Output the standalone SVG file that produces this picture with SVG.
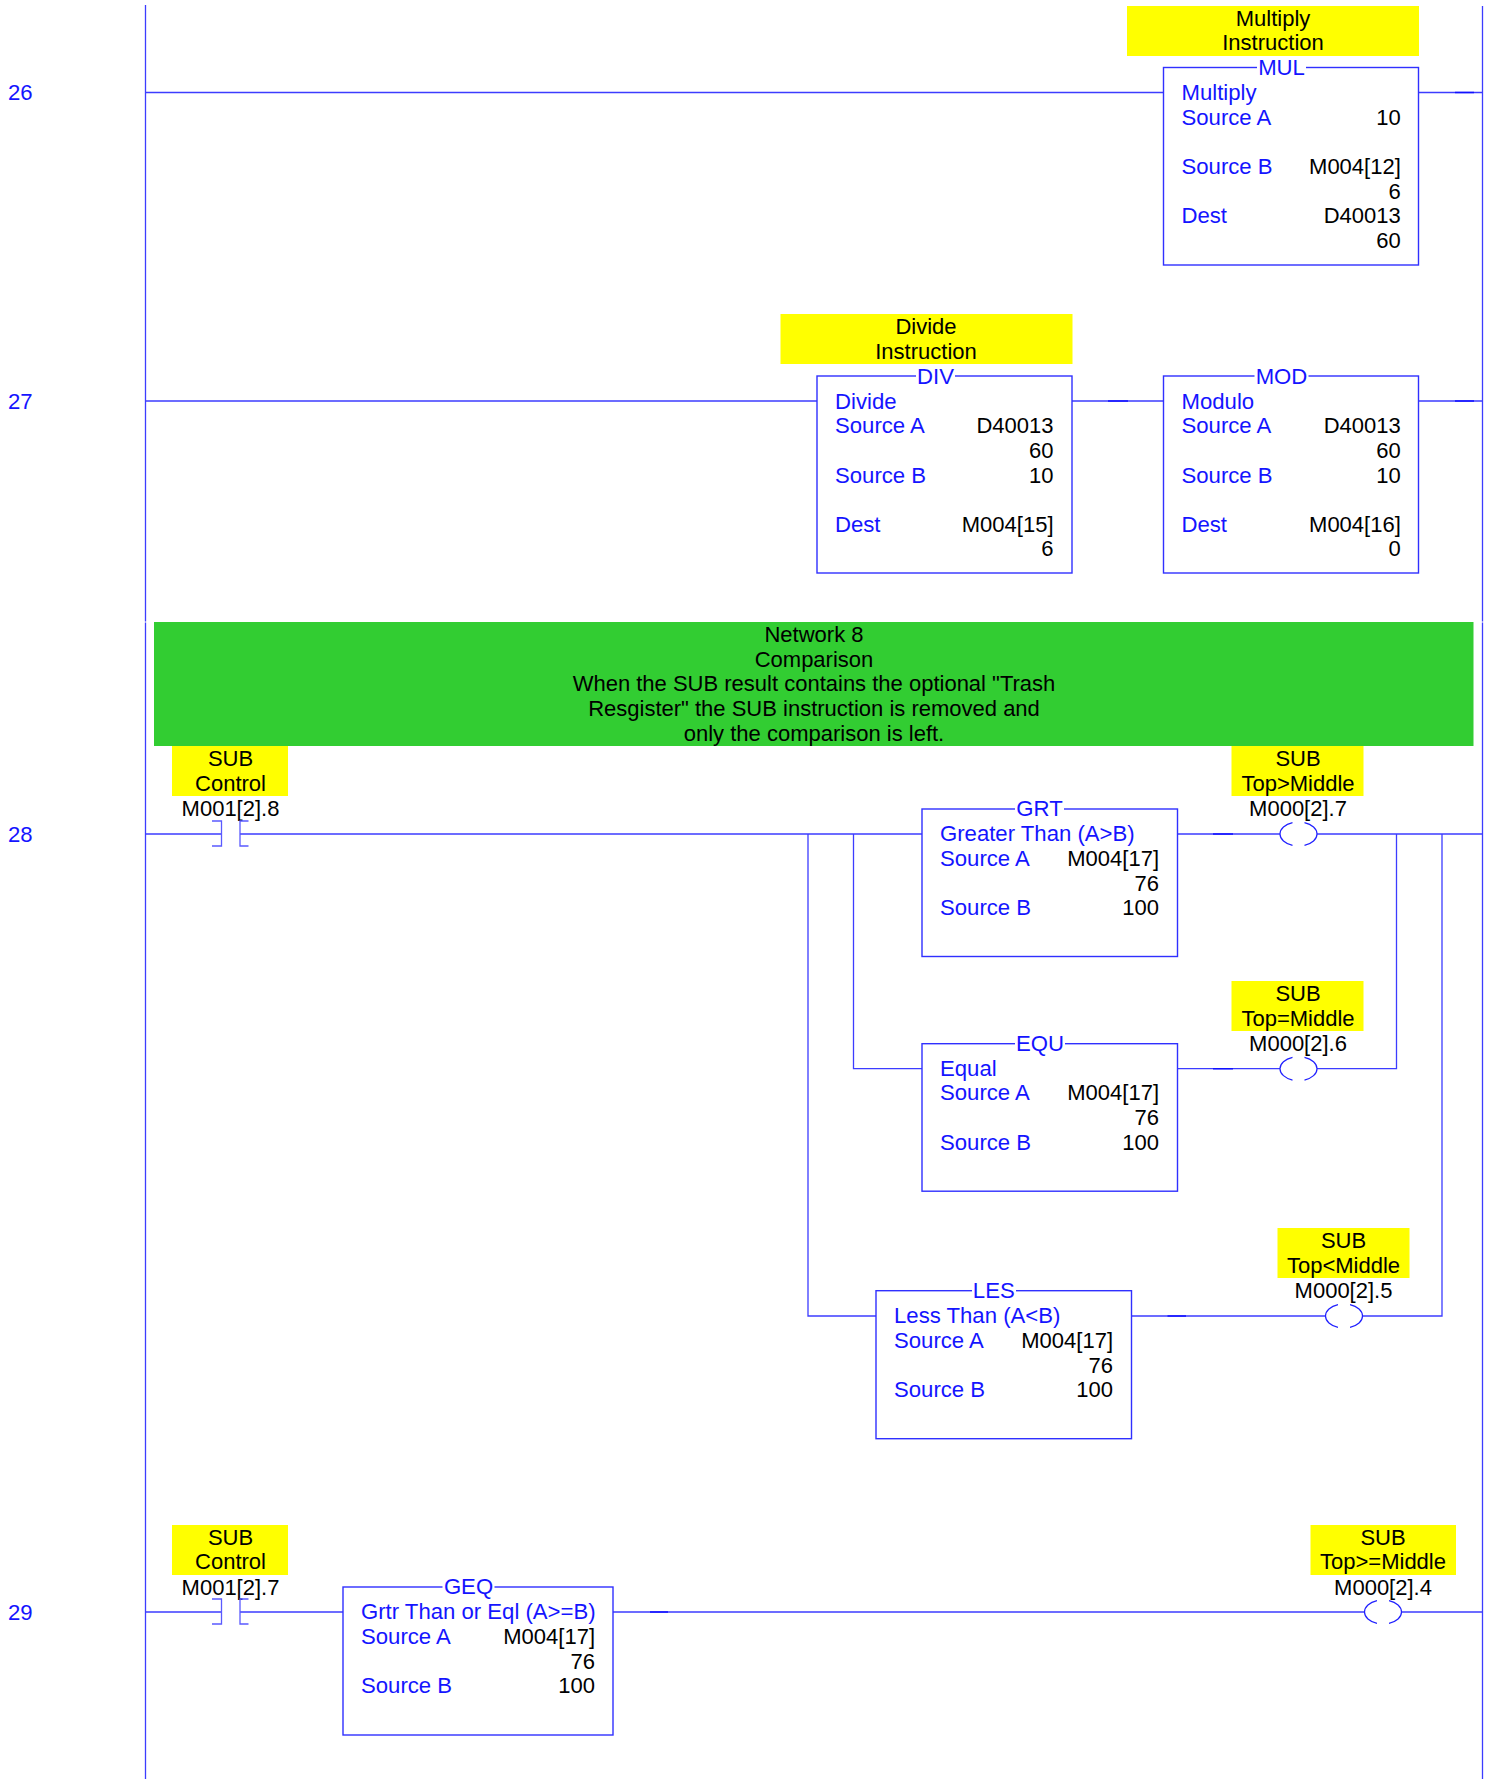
<svg xmlns="http://www.w3.org/2000/svg" width="1486" height="1779" viewBox="0 0 1486 1779">
<style>
text{font-family:"Liberation Sans",Arial,sans-serif;font-size:22px;fill:#000}
text.b{fill:#1414ff;font-size:22.15px}
.m{text-anchor:middle}
.r{text-anchor:end}
.w{fill:none;stroke:#3c3cff;stroke-width:1.3}
.d{fill:none;stroke:#1010ff;stroke-width:1.6}
.box{fill:#fff;stroke:#3030ff;stroke-width:1.4}
.y{fill:#ffff00}
.t{fill:#fff}
.br{fill:none;stroke:#5a5aff;stroke-width:1.3}
.c{fill:none;stroke:#2020ff;stroke-width:1.2}
</style>
<rect width="1486" height="1779" fill="#fff"/>
<g id="connectors">
<path class="w" d="M145.500 5V621.500M145.500 622.500V1779M1482.500 6V621.500M1482.500 622.500V1779"/>
<path class="w" d="M145.500 92.500H1163.500M1418.500 92.500H1482.500"/>
<path class="w" d="M145.500 401H817M1072 401H1163.500M1418.500 401H1482.500"/>
<path class="w" d="M145.500 834H221.500M240 834H922M1177.500 834H1280M1317 834H1482.500M808 834V1316H876M853.500 834V1068.700H922M1177.500 1068.700H1280M1317 1068.700H1396.500V834M1131.500 1316H1325.500M1362.500 1316H1442V834"/>
<path class="w" d="M145.500 1612H221.500M240 1612H343M613 1612H1364M1401 1612H1482.500"/>
<path class="d" d="M1455 92.500H1474M1108 401H1128M1455 401H1474M1213 834H1233M1213 1068.700H1233M1167.500 1316H1186M650 1612H668"/>
</g>
<g id="rung-numbers">
<text class="b" x="8" y="100">26</text>
<text class="b" x="8" y="408.500">27</text>
<text class="b" x="8" y="841.500">28</text>
<text class="b" x="8" y="1619.500">29</text>
</g>
<g id="network-8">
<rect x="154" y="622" width="1319.500" height="124" fill="#32cd32"/>
<text class="m" x="814" y="642">Network 8</text>
<text class="m" x="814" y="667">Comparison</text>
<text class="m" x="814" y="691">When the SUB result contains the optional "Trash</text>
<text class="m" x="814" y="716">Resgister" the SUB instruction is removed and</text>
<text class="m" x="814" y="741">only the comparison is left.</text>
</g>
<g id="mul">
<rect class="y" x="1127" y="6" width="292" height="50"/>
<text class="m" x="1273" y="26">Multiply</text><text class="m" x="1273" y="49.800">Instruction</text>
<rect class="box" x="1163.500" y="67.500" width="255" height="197.500"/>
<rect class="t" x="1257" y="60" width="49" height="14"/>
<text class="b m" x="1281.500" y="75.300">MUL</text>
<text class="b" x="1181.500" y="100">Multiply</text>
<text class="b" x="1181.500" y="125">Source A</text><text class="r" x="1400.800" y="125">10</text>
<text class="b" x="1181.500" y="174">Source B</text><text class="r" x="1400.800" y="174">M004[12]</text>
<text class="r" x="1400.800" y="199">6</text>
<text class="b" x="1181.500" y="222.800">Dest</text><text class="r" x="1400.800" y="222.800">D40013</text>
<text class="r" x="1400.800" y="248">60</text>
</g>
<g id="div">
<rect class="y" x="780.500" y="314" width="292" height="50"/>
<text class="m" x="926" y="334">Divide</text><text class="m" x="926" y="359">Instruction</text>
<rect class="box" x="817" y="376" width="255" height="197"/>
<rect class="t" x="916" y="368" width="39" height="14"/>
<text class="b m" x="935.500" y="384">DIV</text>
<text class="b" x="835" y="408.500">Divide</text>
<text class="b" x="835" y="432.800">Source A</text><text class="r" x="1053.500" y="432.800">D40013</text>
<text class="r" x="1053.500" y="458">60</text>
<text class="b" x="835" y="483">Source B</text><text class="r" x="1053.500" y="483">10</text>
<text class="b" x="835" y="532">Dest</text><text class="r" x="1053.500" y="532">M004[15]</text>
<text class="r" x="1053.500" y="556">6</text>
</g>
<g id="mod">
<rect class="box" x="1163.500" y="376" width="255" height="197"/>
<rect class="t" x="1254.500" y="368" width="54" height="14"/>
<text class="b m" x="1281.500" y="384">MOD</text>
<text class="b" x="1181.500" y="408.500">Modulo</text>
<text class="b" x="1181.500" y="432.800">Source A</text><text class="r" x="1400.800" y="432.800">D40013</text>
<text class="r" x="1400.800" y="458">60</text>
<text class="b" x="1181.500" y="483">Source B</text><text class="r" x="1400.800" y="483">10</text>
<text class="b" x="1181.500" y="532">Dest</text><text class="r" x="1400.800" y="532">M004[16]</text>
<text class="r" x="1400.800" y="556">0</text>
</g>
<g id="contact-28">
<rect class="y" x="172" y="746" width="116" height="50"/>
<text class="m" x="230.500" y="765.700">SUB</text><text class="m" x="230.500" y="791">Control</text>
<text class="m" x="230.500" y="816">M001[2].8</text>
<path class="br" d="M212 821H221.500V846H212M248.500 821H240V846H248.500"/>
</g>
<g id="grt">
<rect class="box" x="922" y="809" width="255.500" height="147.500"/>
<rect class="t" x="1015" y="801" width="49" height="14"/>
<text class="b m" x="1039.500" y="816.300">GRT</text>
<text class="b" x="940" y="840.600">Greater Than (A&gt;B)</text>
<text class="b" x="940" y="865.500">Source A</text><text class="r" x="1159" y="865.500">M004[17]</text>
<text class="r" x="1159" y="890.500">76</text>
<text class="b" x="940" y="915">Source B</text><text class="r" x="1159" y="915">100</text>
</g>
<g id="coil-27">
<rect class="y" x="1231.500" y="746" width="132" height="50"/>
<text class="m" x="1298" y="765.700">SUB</text><text class="m" x="1298" y="791">Top&gt;Middle</text>
<text class="m" x="1298" y="816">M000[2].7</text>
<path class="c" d="M1292.500 822.650A18.500 12 0 0 0 1292.500 845.350M1304.500 822.650A18.500 12 0 0 1 1304.500 845.350"/>
</g>
<g id="equ">
<rect class="box" x="922" y="1043.700" width="255.500" height="147.500"/>
<rect class="t" x="1015" y="1036" width="50" height="14"/>
<text class="b m" x="1040" y="1050.500">EQU</text>
<text class="b" x="940" y="1076">Equal</text>
<text class="b" x="940" y="1100">Source A</text><text class="r" x="1159" y="1100">M004[17]</text>
<text class="r" x="1159" y="1125">76</text>
<text class="b" x="940" y="1150">Source B</text><text class="r" x="1159" y="1150">100</text>
</g>
<g id="coil-26">
<rect class="y" x="1231.500" y="981" width="132" height="50"/>
<text class="m" x="1298" y="1000.500">SUB</text><text class="m" x="1298" y="1026">Top=Middle</text>
<text class="m" x="1298" y="1050.800">M000[2].6</text>
<path class="c" d="M1292.500 1057.350A18.500 12 0 0 0 1292.500 1080.050M1304.500 1057.350A18.500 12 0 0 1 1304.500 1080.050"/>
</g>
<g id="les">
<rect class="box" x="876" y="1290.700" width="255.500" height="148"/>
<rect class="t" x="972" y="1283" width="44" height="14"/>
<text class="b m" x="993.800" y="1298">LES</text>
<text class="b" x="894" y="1322.800">Less Than (A&lt;B)</text>
<text class="b" x="894" y="1347.500">Source A</text><text class="r" x="1113" y="1347.500">M004[17]</text>
<text class="r" x="1113" y="1372.500">76</text>
<text class="b" x="894" y="1397">Source B</text><text class="r" x="1113" y="1397">100</text>
</g>
<g id="coil-25">
<rect class="y" x="1277.500" y="1228" width="132" height="50"/>
<text class="m" x="1343.500" y="1247.500">SUB</text><text class="m" x="1343.500" y="1272.500">Top&lt;Middle</text>
<text class="m" x="1343.500" y="1297.800">M000[2].5</text>
<path class="c" d="M1338 1304.650A18.500 12 0 0 0 1338 1327.350M1350 1304.650A18.500 12 0 0 1 1350 1327.350"/>
</g>
<g id="contact-29">
<rect class="y" x="172" y="1525" width="116" height="50"/>
<text class="m" x="230.500" y="1544.700">SUB</text><text class="m" x="230.500" y="1569.300">Control</text>
<text class="m" x="230.500" y="1594.800">M001[2].7</text>
<path class="br" d="M212 1599H221.500V1624H212M248.500 1599H240V1624H248.500"/>
</g>
<g id="geq">
<rect class="box" x="343" y="1587" width="270" height="148"/>
<rect class="t" x="442.500" y="1579" width="52" height="14"/>
<text class="b m" x="468.500" y="1594">GEQ</text>
<text class="b" x="361" y="1618.800">Grtr Than or Eql (A&gt;=B)</text>
<text class="b" x="361" y="1643.500">Source A</text><text class="r" x="595" y="1643.500">M004[17]</text>
<text class="r" x="595" y="1668.500">76</text>
<text class="b" x="361" y="1693">Source B</text><text class="r" x="595" y="1693">100</text>
</g>
<g id="coil-24">
<rect class="y" x="1310.500" y="1525" width="145.500" height="50"/>
<text class="m" x="1383" y="1544.700">SUB</text><text class="m" x="1383" y="1569.300">Top&gt;=Middle</text>
<text class="m" x="1383" y="1594.800">M000[2].4</text>
<path class="c" d="M1377 1600.650A18.500 12 0 0 0 1377 1623.350M1389 1600.650A18.500 12 0 0 1 1389 1623.350"/>
</g>
</svg>
